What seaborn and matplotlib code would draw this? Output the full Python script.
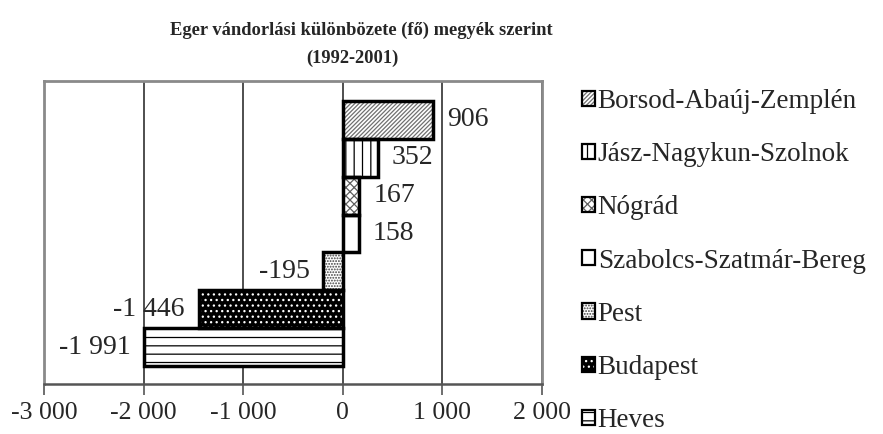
import matplotlib
matplotlib.use("Agg")
import matplotlib.pyplot as plt
from matplotlib.patches import Patch
from matplotlib.legend_handler import HandlerTuple
from matplotlib.ticker import FuncFormatter, MultipleLocator
import seaborn as sns
import pandas as pd

# ---- data ----
counties = ["Borsod-Abaúj-Zemplén", "Jász-Nagykun-Szolnok", "Nógrád",
            "Szabolcs-Szatmár-Bereg", "Pest", "Budapest", "Heves"]
values = [906, 352, 167, 158, -195, -1446, -1991]
title_line1 = "Eger vándorlási különbözete (fő) megyék szerint"
title_line2 = "(1992-2001)"

# ---- styles ----
faces = ["white", "white", "white", "white", "white", "black", "white"]
hatches = ["////////", "||", "xxxx", "", "......", "...", "--"]
hatch_colors = ["#707070", "black", "#606060", "black", "#404040", "white", "black"]

sns.set_theme(style="white")
plt.rcParams["font.family"] = ["Liberation Serif", "DejaVu Serif"]
plt.rcParams["hatch.linewidth"] = 0.9

df = pd.DataFrame({"county": counties, "value": values})

fig = plt.figure(figsize=(8.83, 4.34), dpi=100)
ax = fig.add_axes([44 / 883, 1 - 384 / 434, (542 - 44) / 883, (384 - 81) / 434])

# fill + hatch layer
sns.barplot(data=df, y="county", x="value", hue="county", order=counties,
            hue_order=counties, palette=dict(zip(counties, faces)),
            width=1.0, dodge=False, legend=False, ax=ax, orient="h",
            saturation=1)
for cont, h, hc, fc in zip(ax.containers, hatches, hatch_colors, faces):
    for p in cont:
        p.set_facecolor(fc)
        p.set_edgecolor(hc)
        p.set_hatch(h)
        p.set_linewidth(0)
fill_containers = list(ax.containers)

# outline layer
sns.barplot(data=df, y="county", x="value", hue="county", order=counties,
            hue_order=counties, palette=dict(zip(counties, ["black"] * 7)),
            width=1.0, dodge=False, legend=False, ax=ax, orient="h",
            fill=False, linewidth=2.5, saturation=1)

fmt = lambda v: f"{v:,.0f}".replace(",", " ")
for cont, v in zip(fill_containers, values):
    ax.bar_label(cont, labels=[fmt(v)], padding=10, fontsize=20)

ax.set_xlim(-3000, 2000)
ax.set_ylim(6.975, -1.028)
ax.xaxis.set_major_locator(MultipleLocator(1000))
ax.xaxis.set_major_formatter(FuncFormatter(lambda x, pos: fmt(x)))
ax.set_xlabel("")
ax.set_ylabel("")
ax.set_yticks([])
ax.grid(axis="x", color="#303030", linewidth=1.2)
ax.set_axisbelow(True)
for s in ["left", "top", "right"]:
    ax.spines[s].set_color("#8a8a8a")
    ax.spines[s].set_linewidth(2)
ax.spines["bottom"].set_color("#555555")
ax.spines["bottom"].set_linewidth(1.8)
ax.tick_params(axis="x", direction="out", length=8, width=1.2, color="#555555",
               labelsize=18.5, pad=5, bottom=True)

fig.text(361 / 883, 1 - 30 / 434, title_line1, ha="center", va="center",
         fontsize=13.3, fontweight="bold")
fig.text(352 / 883, 1 - 58 / 434, title_line2, ha="center", va="center",
         fontsize=13.3, fontweight="bold")

handles = []
for fc, h, hc in zip(faces, hatches, hatch_colors):
    handles.append((Patch(facecolor=fc, edgecolor=hc, hatch=h, linewidth=0),
                    Patch(facecolor="none", edgecolor="black", linewidth=1.6)))
fig.legend(handles, counties, handler_map={tuple: HandlerTuple(ndivide=1, pad=0)},
           loc="upper left", bbox_to_anchor=(582 / 883, 1 - 89 / 434),
           frameon=False, fontsize=19.5, handlelength=0.48, handleheight=0.48,
           handletextpad=0.1, labelspacing=1.04, borderpad=0, borderaxespad=0)

fig.savefig("out.png", dpi=100)
